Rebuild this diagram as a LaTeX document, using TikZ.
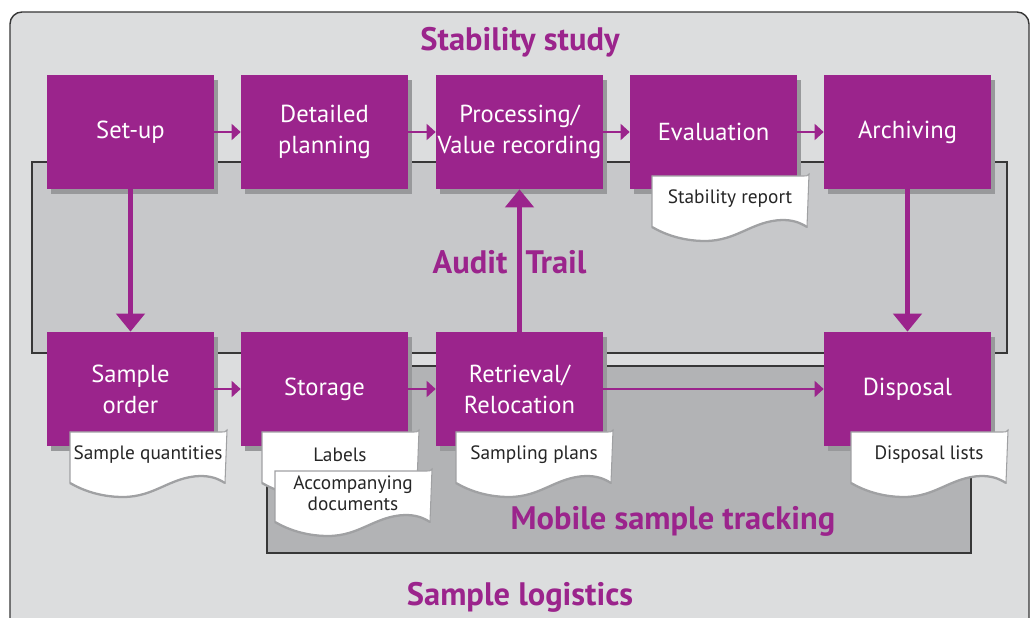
\documentclass[tikz,border=0pt]{standalone}
\usepackage{fontspec}
\setmainfont{PT Sans}
\usepackage{tikz}
\usetikzlibrary{arrows.meta,shadows}

\definecolor{stepviolet}{RGB}{155,36,140}
\definecolor{outergray}{RGB}{220,221,222}
\definecolor{studygray}{RGB}{199,200,202}
\definecolor{mobilegray}{RGB}{178,179,181}
\definecolor{shadegray}{RGB}{152,153,155}
\definecolor{rimgray}{RGB}{55,55,55}
\definecolor{papergray}{RGB}{160,161,163}

\tikzset{
  stepbox/.style={fill=stepviolet, text=white, minimum width=3.34cm, minimum height=2.28cm,
    inner sep=0pt, align=center, font=\fontsize{14}{17.6}\selectfont,
    general shadow={fill=shadegray, shadow xshift=0.08cm, shadow yshift=-0.1cm}},
  flow/.style={draw=stepviolet, line width=1pt, -{Triangle[length=0.18cm,width=0.32cm]}},
  bigflow/.style={draw=stepviolet, line width=0.1cm, -{Triangle[length=0.36cm,width=0.56cm]}},
  titletext/.style={text=stepviolet, font=\fontsize{18.5}{21}\selectfont\bfseries},
  doctext/.style={text=black!85, align=center, inner sep=0pt, font=\fontsize{11}{12.2}\selectfont},
  paper/.pic={
    \draw[draw=papergray, line width=0.6pt, fill=white] (0,0) -- (152,0) .. controls (155,0) .. (157,-2)
      -- (155,51) .. controls (147,46) and (140,44) .. (130,44) .. controls (100,45) and (85,65) .. (53,65)
      .. controls (30,65) and (12,58) .. (0,51) -- cycle;
    \draw[papergray, line width=1.3pt] (155,51) .. controls (147,46) and (140,44) .. (130,44)
      .. controls (100,45) and (85,65) .. (53,65) .. controls (30,65) and (12,58) .. (0,51);
  }
}

\begin{document}
\begin{tikzpicture}[x=0.02cm, y=-0.02cm]
        \clip (0,0) rectangle (1036,618);

        % areas
        \draw[rimgray, line width=0.8pt, fill=outergray, rounded corners=0.24cm] (10,12) rectangle (1029,660);
        \draw[rimgray, line width=0.8pt, fill=studygray] (32,162) rectangle (1007,353);
        \draw[rimgray, line width=0.8pt, fill=mobilegray] (267,366) rectangle (971,553);

        % stability study
        \node[stepbox] (setup) at (130.5,132) {Set-up};
        \node[stepbox] (detail) at (324.5,132) {Detailed\\planning};
        \node[stepbox] (process) at (519.5,132) {Processing/\\Value recording};
        \node[stepbox] (eval) at (713.5,132) {Evaluation};
        \node[stepbox] (archive) at (907.5,132) {Archiving};

        % sample logistics
        \node[stepbox] (order) at (130.5,389) {Sample\\order};
        \node[stepbox] (storage) at (324.5,389) {Storage};
        \node[stepbox] (retrieval) at (519.5,389) {Retrieval/\\Relocation};
        \node[stepbox] (disposal) at (907.5,389) {Disposal};

        \draw[flow] (setup) -- (detail);
        \draw[flow] (detail) -- (process);
        \draw[flow] (process) -- (eval);
        \draw[flow] (eval) -- (archive);
        \draw[flow] (order) -- (storage);
        \draw[flow] (storage) -- (retrieval);
        \draw[flow] (retrieval) -- (disposal);

        \draw[bigflow] (setup) -- (order);
        \draw[bigflow] (retrieval) -- (process);
        \draw[bigflow] (archive) -- (disposal);

        % documents
        \pic at (652,176) {paper};
        \node[doctext] (report) at (730,199) {Stability report};
        \pic at (70,432) {paper};
        \node[doctext] (quantities) at (148,455) {Sample quantities};
        \pic at (262,432) {paper};
        \node[doctext] (labels) at (340,455) {Labels};
        \pic at (275,471) {paper};
        \node[doctext] (accomp) at (353,493) {Accompanying\\documents};
        \pic at (456,432) {paper};
        \node[doctext] (plans) at (534,455) {Sampling plans};
        \pic at (851,432) {paper};
        \node[doctext] (lists) at (929,455) {Disposal lists};

        % titles
        \node[titletext] (study) at (520,42) {Stability study};
        \node[titletext] (audit) at (470,262) {Audit};
        \node[titletext] (trail) at (556,262) {Trail};
        \node[titletext] (mobile) at (673,521) {Mobile sample tracking};
        \node[titletext] (logistics) at (520,597) {Sample logistics};
\end{tikzpicture}
\end{document}
